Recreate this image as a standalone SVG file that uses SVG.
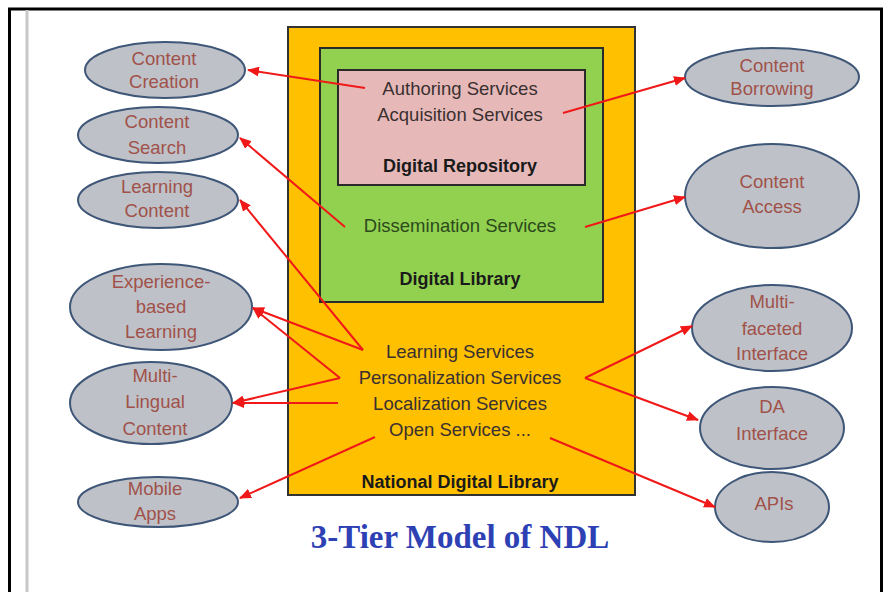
<svg xmlns="http://www.w3.org/2000/svg" width="888" height="592" viewBox="0 0 888 592">
<style>
.svc{font-family:"Liberation Sans",Arial,sans-serif;font-size:18.5px;fill:#3a3030;text-anchor:middle}
.lbl{font-family:"Liberation Sans",Arial,sans-serif;font-size:18px;font-weight:bold;fill:#1a1a1a;text-anchor:middle}
.el{fill:#bfc1c8;stroke:#3e5677;stroke-width:2}
.et{font-family:"Liberation Sans",Arial,sans-serif;font-size:18.5px;fill:#a0524a;text-anchor:middle}
.conn{stroke:#f01818;stroke-width:2;fill:none}
</style>
<defs>
<marker id="ah" markerUnits="userSpaceOnUse" markerWidth="12" markerHeight="10" refX="11" refY="5" orient="auto">
<path d="M0,0 L12,5 L0,10 Z" fill="#f01818"/>
</marker>
</defs>
<rect x="0" y="0" width="888" height="592" fill="#ffffff"/>
<rect x="9.5" y="9" width="872" height="600" fill="none" stroke="#000" stroke-width="3"/>
<line x1="27" y1="10" x2="27" y2="592" stroke="#c8c8c8" stroke-width="3"/>

<g id="ndl">
<rect x="288" y="27" width="347" height="468" fill="#ffc000" stroke="#333" stroke-width="2"/>
<text class="svc" x="460" y="358">Learning Services</text>
<text class="svc" x="460" y="384">Personalization Services</text>
<text class="svc" x="460" y="410">Localization Services</text>
<text class="svc" x="460" y="436">Open Services ...</text>
<text class="lbl" x="460" y="488">National Digital Library</text>
</g>
<g id="dl">
<rect x="320" y="48" width="283" height="254" fill="#92d050" stroke="#2a2a2a" stroke-width="2"/>
<text class="svc" x="460" y="232" style="fill:#2c4a1c">Dissemination Services</text>
<text class="lbl" x="460" y="285">Digital Library</text>
</g>
<g id="dr">
<rect x="338" y="70" width="247" height="115" fill="#e6b9b8" stroke="#2a2a2a" stroke-width="2"/>
<text class="svc" x="460" y="95">Authoring Services</text>
<text class="svc" x="460" y="121">Acquisition Services</text>
<text class="lbl" x="460" y="172">Digital Repository</text>
</g>

<g id="title">
<text x="460" y="548" font-family="Liberation Serif,Times New Roman,serif" font-weight="bold" font-size="33" fill="#2e41b4" text-anchor="middle">3-Tier Model of NDL</text>
</g>

<g id="content-creation"><ellipse class="el" cx="165" cy="70" rx="80" ry="28"/><text class="et" x="164" y="65">Content</text><text class="et" x="164" y="88">Creation</text></g>
<g id="content-search"><ellipse class="el" cx="158" cy="135" rx="80" ry="28"/><text class="et" x="157" y="128">Content</text><text class="et" x="157" y="154">Search</text></g>
<g id="learning-content"><ellipse class="el" cx="158" cy="200" rx="80" ry="28"/><text class="et" x="157" y="193">Learning</text><text class="et" x="157" y="217">Content</text></g>
<g id="experience"><ellipse class="el" cx="161" cy="307" rx="91" ry="43"/><text class="et" x="161" y="288">Experience-</text><text class="et" x="161" y="313">based</text><text class="et" x="161" y="338">Learning</text></g>
<g id="multilingual"><ellipse class="el" cx="151" cy="403" rx="81" ry="41"/><text class="et" x="155" y="382">Multi-</text><text class="et" x="155" y="408">Lingual</text><text class="et" x="155" y="435">Content</text></g>
<g id="mobile"><ellipse class="el" cx="158" cy="502" rx="80" ry="25"/><text class="et" x="155" y="495">Mobile</text><text class="et" x="155" y="520">Apps</text></g>

<g id="content-borrowing"><ellipse class="el" cx="772" cy="77" rx="87" ry="29"/><text class="et" x="772" y="72">Content</text><text class="et" x="772" y="95">Borrowing</text></g>
<g id="content-access"><ellipse class="el" cx="772" cy="196" rx="87" ry="52"/><text class="et" x="772" y="188">Content</text><text class="et" x="772" y="213">Access</text></g>
<g id="multifaceted"><ellipse class="el" cx="772" cy="328" rx="80" ry="43"/><text class="et" x="772" y="308">Multi-</text><text class="et" x="772" y="335">faceted</text><text class="et" x="772" y="360">Interface</text></g>
<g id="da-interface"><ellipse class="el" cx="772" cy="428" rx="72" ry="41"/><text class="et" x="772" y="413">DA</text><text class="et" x="772" y="440">Interface</text></g>
<g id="apis"><ellipse class="el" cx="772" cy="507" rx="57" ry="35"/><text class="et" x="774" y="510">APIs</text></g>

<g id="connectors">
<line class="conn" x1="365" y1="88" x2="248" y2="70" marker-end="url(#ah)"/>
<line class="conn" x1="563" y1="113" x2="685" y2="78" marker-end="url(#ah)"/>
<line class="conn" x1="345" y1="227" x2="240" y2="138" marker-end="url(#ah)"/>
<line class="conn" x1="585" y1="227" x2="685" y2="197" marker-end="url(#ah)"/>
<line class="conn" x1="363" y1="350" x2="240" y2="200" marker-end="url(#ah)"/>
<line class="conn" x1="363" y1="350" x2="253" y2="308" marker-end="url(#ah)"/>
<line class="conn" x1="340" y1="378" x2="253" y2="308" marker-end="url(#ah)"/>
<line class="conn" x1="340" y1="378" x2="233" y2="403" marker-end="url(#ah)"/>
<line class="conn" x1="338" y1="403" x2="233" y2="403" marker-end="url(#ah)"/>
<line class="conn" x1="375" y1="437" x2="240" y2="498" marker-end="url(#ah)"/>
<line class="conn" x1="585" y1="378" x2="692" y2="326" marker-end="url(#ah)"/>
<line class="conn" x1="585" y1="378" x2="698" y2="420" marker-end="url(#ah)"/>
<line class="conn" x1="550" y1="438" x2="715" y2="507" marker-end="url(#ah)"/>
</g>
</svg>
